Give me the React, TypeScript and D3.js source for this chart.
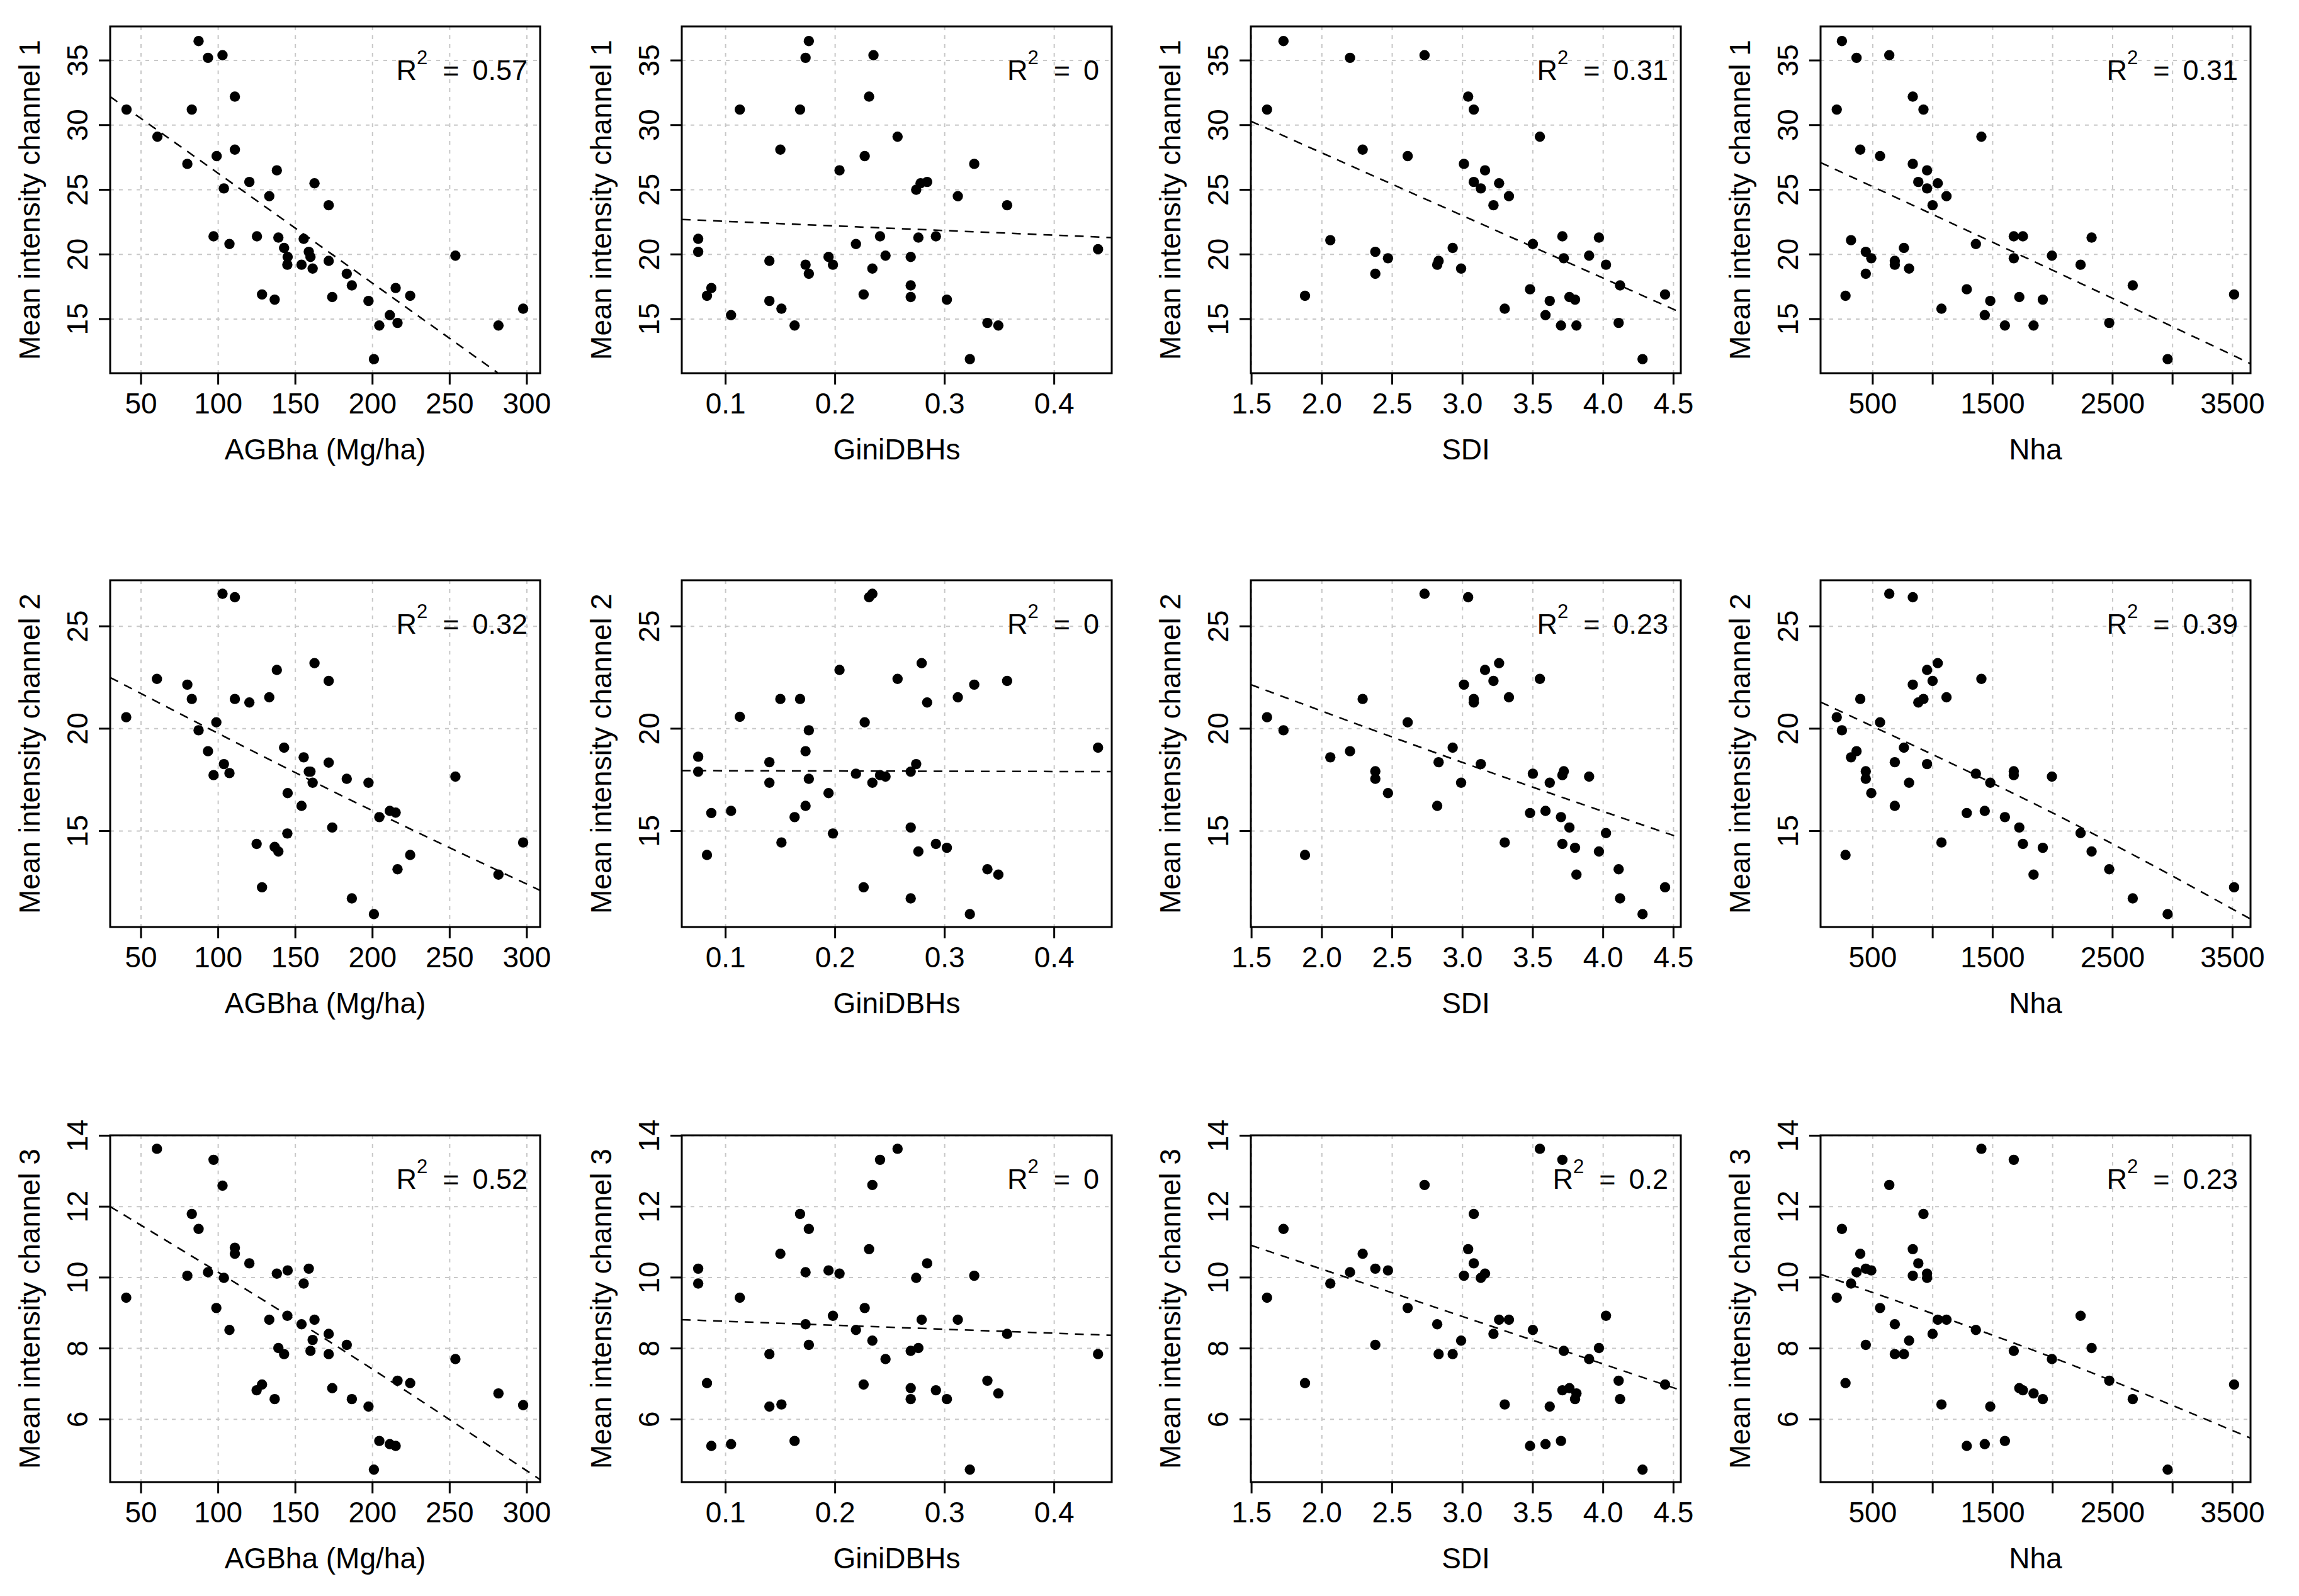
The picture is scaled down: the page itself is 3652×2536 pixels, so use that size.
import React from 'react';
import * as d3 from 'd3';

const W = 3652;
const H = 2536;

// ---------- data ----------
const agbCh1 = [[40.6,31.2],[60.6,29.1],[80,27.0],[82.9,31.2],[87.3,36.5],[93.4,35.2],[102.8,35.4],[99,27.6],[110.8,32.2],[110.8,28.1],[97,21.4],[103.7,25.1],[107.3,20.8],[120.2,25.6],[125.1,21.4],[128.4,16.9],[133.1,24.5],[136.6,16.5],[138,26.5],[139,21.3],[142.7,20.5],[145,19.8],[144.8,19.2],[154,19.2],[155.4,21.2],[158.7,20.2],[159.8,19.8],[161.2,18.9],[162.4,25.5],[171.6,23.8],[171.6,19.5],[173.9,16.7],[183.3,18.5],[186.6,17.6],[197.4,16.4],[200.9,11.9],[204.4,14.5],[211.2,15.3],[215,17.4],[216.2,14.7],[224.4,16.8],[253.7,19.9],[281.6,14.5],[297.6,15.8]];
const giniCh1 = [[0.075,21.2],[0.075,20.2],[0.083,16.8],[0.087,17.4],[0.105,15.3],[0.113,31.2],[0.140,19.5],[0.140,16.4],[0.150,28.1],[0.151,15.8],[0.163,14.5],[0.168,31.2],[0.173,19.2],[0.173,35.2],[0.176,36.5],[0.176,18.5],[0.194,19.8],[0.198,19.2],[0.204,26.5],[0.219,20.8],[0.226,16.9],[0.227,27.6],[0.231,32.2],[0.234,18.9],[0.235,35.4],[0.241,21.4],[0.246,19.9],[0.257,29.1],[0.269,19.8],[0.269,17.6],[0.269,16.7],[0.274,25.0],[0.276,21.3],[0.278,25.5],[0.284,25.6],[0.292,21.4],[0.302,16.5],[0.312,24.5],[0.323,11.9],[0.327,27.0],[0.339,14.7],[0.349,14.5],[0.357,23.8],[0.440,20.4]];
const sdiCh1 = [[1.61,31.2],[1.727,36.5],[1.88,16.8],[2.06,21.1],[2.20,35.2],[2.29,28.1],[2.38,20.2],[2.38,18.5],[2.47,19.7],[2.61,27.6],[2.73,35.4],[2.82,19.2],[2.83,19.5],[2.93,20.5],[2.99,18.9],[3.01,27.0],[3.04,32.2],[3.08,31.2],[3.08,25.6],[3.13,25.1],[3.16,26.5],[3.22,23.8],[3.26,25.5],[3.30,15.8],[3.33,24.5],[3.48,17.3],[3.50,20.8],[3.55,29.1],[3.59,15.3],[3.62,16.4],[3.70,14.5],[3.71,21.4],[3.72,19.7],[3.76,16.7],[3.80,16.5],[3.81,14.5],[3.90,19.9],[3.97,21.3],[4.02,19.2],[4.11,14.7],[4.12,17.6],[4.28,11.9],[4.44,16.9]];
const nhaCh1 = [[200,31.2],[243,36.5],[273,16.8],[319,21.1],[365,35.2],[396,28.1],[442,20.2],[442,18.5],[488,19.7],[561,27.6],[638,35.4],[684,19.5],[684,19.2],[760,20.5],[803,18.9],[834,32.2],[834,27.0],[880,25.6],[923,31.2],[953,26.5],[953,25.1],[999,23.8],[1042,25.5],[1073,15.8],[1115,24.5],[1284,17.3],[1360,20.8],[1406,29.1],[1434,15.3],[1480,16.4],[1602,14.5],[1676,21.4],[1676,19.7],[1722,16.7],[1752,21.4],[1841,14.5],[1918,16.5],[1994,19.9],[2233,19.2],[2325,21.3],[2472,14.7],[2668,17.6],[2959,11.9],[3513,16.9]];

const agbCh2 = [[40.4,20.56],[60.3,22.43],[80,22.15],[82.9,21.45],[87.3,19.92],[93.4,18.9],[98.8,20.31],[97,17.73],[103.7,18.27],[107.3,17.83],[102.8,26.59],[110.8,26.42],[110.8,21.45],[120.2,21.28],[124.9,14.37],[128.4,12.25],[133.1,21.53],[136.6,14.22],[138,22.87],[139,14.0],[142.7,19.07],[145,16.85],[144.8,14.88],[154,16.23],[155.4,18.6],[158.7,17.9],[159.8,17.9],[161.2,17.36],[162.4,23.2],[171.6,22.33],[171.6,18.34],[173.9,15.17],[183.3,17.55],[186.6,11.71],[197.4,17.36],[200.9,10.94],[204.4,15.68],[211.2,15.98],[215,15.9],[216.2,13.13],[224.4,13.83],[253.7,17.66],[281.6,12.87],[297.6,14.44]];
const giniCh2 = [[0.075,18.63],[0.075,17.9],[0.083,13.83],[0.087,15.88],[0.105,15.98],[0.113,20.58],[0.140,18.36],[0.140,17.36],[0.150,21.45],[0.151,14.44],[0.163,15.68],[0.168,21.45],[0.173,18.9],[0.173,16.23],[0.176,19.92],[0.176,17.55],[0.194,16.85],[0.198,14.88],[0.204,22.87],[0.219,17.8],[0.226,12.25],[0.227,20.31],[0.231,26.42],[0.234,26.59],[0.234,17.36],[0.241,17.73],[0.246,17.66],[0.257,22.43],[0.269,17.9],[0.269,15.17],[0.269,11.71],[0.274,18.27],[0.276,14.0],[0.279,23.2],[0.284,21.28],[0.292,14.37],[0.302,14.18],[0.312,21.53],[0.323,10.94],[0.327,22.15],[0.339,13.13],[0.349,12.87],[0.357,22.33],[0.440,19.07]];
const sdiCh2 = [[1.61,20.56],[1.727,19.92],[1.88,13.83],[2.06,18.6],[2.20,18.9],[2.29,21.45],[2.38,17.92],[2.38,17.55],[2.47,16.85],[2.61,20.31],[2.73,26.59],[2.82,16.23],[2.83,18.36],[2.93,19.07],[2.99,17.36],[3.01,22.15],[3.04,26.42],[3.08,21.45],[3.08,21.28],[3.13,18.27],[3.16,22.87],[3.22,22.33],[3.26,23.2],[3.30,14.44],[3.33,21.53],[3.48,15.88],[3.50,17.8],[3.55,22.43],[3.59,15.98],[3.62,17.36],[3.70,15.68],[3.71,14.37],[3.71,17.73],[3.72,17.92],[3.76,15.17],[3.80,14.18],[3.81,12.87],[3.90,17.66],[3.97,14.0],[4.02,14.9],[4.11,13.13],[4.12,11.71],[4.28,10.94],[4.44,12.25]];
const nhaCh2 = [[200,20.56],[243,19.92],[273,13.83],[319,18.6],[365,18.9],[396,21.45],[442,17.92],[442,17.55],[488,16.85],[561,20.31],[638,26.59],[684,18.36],[684,16.23],[760,19.07],[803,17.36],[834,26.42],[834,22.15],[880,21.28],[923,21.45],[953,22.87],[953,18.27],[999,22.33],[1042,23.2],[1073,14.44],[1115,21.53],[1284,15.88],[1360,17.8],[1406,22.43],[1434,15.98],[1480,17.36],[1602,15.68],[1676,17.92],[1676,17.73],[1722,15.17],[1752,14.37],[1841,12.87],[1918,14.18],[1994,17.66],[2233,14.9],[2325,14.0],[2472,13.13],[2668,11.71],[2959,10.94],[3513,12.25]];

const agbCh3 = [[40.4,9.43],[60.3,13.63],[80,10.05],[82.9,11.79],[87.3,11.37],[93.4,10.15],[97,13.32],[98.8,9.14],[103.7,9.99],[102.8,12.59],[107.3,8.52],[110.8,10.84],[110.8,10.67],[120.2,10.4],[124.9,6.82],[128.4,6.98],[133.1,8.81],[136.6,6.57],[138,10.11],[139,8.01],[142.7,7.84],[145,10.2],[144.8,8.92],[154,8.68],[155.4,9.83],[158.7,10.25],[159.8,7.93],[161.2,8.24],[162.4,8.81],[171.6,8.41],[171.6,7.84],[173.9,6.88],[183.3,8.1],[186.6,6.57],[197.4,6.36],[200.9,4.58],[204.4,5.39],[211.2,5.3],[215,5.25],[216.2,7.09],[224.4,7.02],[253.7,7.7],[281.6,6.73],[297.6,6.4]];
const giniCh3 = [[0.075,10.25],[0.075,9.83],[0.083,7.02],[0.087,5.25],[0.105,5.3],[0.113,9.43],[0.140,7.84],[0.140,6.36],[0.150,10.67],[0.151,6.42],[0.163,5.39],[0.168,11.79],[0.173,10.15],[0.173,8.68],[0.176,11.37],[0.176,8.1],[0.194,10.2],[0.198,8.92],[0.204,10.11],[0.219,8.52],[0.226,6.98],[0.227,9.14],[0.231,10.8],[0.234,12.61],[0.234,8.22],[0.241,13.32],[0.246,7.7],[0.257,13.63],[0.269,7.93],[0.269,6.88],[0.269,6.57],[0.274,9.99],[0.276,8.01],[0.279,8.81],[0.284,10.4],[0.292,6.82],[0.302,6.57],[0.312,8.81],[0.323,4.58],[0.327,10.05],[0.339,7.09],[0.349,6.73],[0.357,8.41],[0.440,7.84]];
const sdiCh3 = [[1.61,9.43],[1.727,11.37],[1.88,7.02],[2.06,9.83],[2.20,10.15],[2.29,10.67],[2.38,10.25],[2.38,8.1],[2.47,10.2],[2.61,9.14],[2.73,12.61],[2.82,8.68],[2.83,7.84],[2.93,7.84],[2.99,8.22],[3.01,10.05],[3.04,10.8],[3.08,11.79],[3.08,10.4],[3.13,9.99],[3.16,10.11],[3.22,8.41],[3.26,8.81],[3.30,6.42],[3.33,8.81],[3.48,5.25],[3.50,8.52],[3.55,13.63],[3.59,5.3],[3.62,6.36],[3.70,5.39],[3.71,13.32],[3.71,6.82],[3.72,7.93],[3.76,6.88],[3.80,6.57],[3.81,6.73],[3.90,7.7],[3.97,8.01],[4.02,8.92],[4.11,7.09],[4.12,6.57],[4.28,4.58],[4.44,6.98]];
const nhaCh3 = [[200,9.43],[243,11.37],[273,7.02],[319,9.83],[365,10.15],[396,10.67],[442,10.25],[442,8.1],[488,10.2],[561,9.14],[638,12.61],[684,8.68],[684,7.84],[760,7.84],[803,8.22],[834,10.05],[834,10.8],[880,10.4],[923,11.79],[953,10.11],[953,9.99],[999,8.41],[1042,8.81],[1073,6.42],[1115,8.81],[1284,5.25],[1360,8.52],[1406,13.63],[1434,5.3],[1480,6.36],[1602,5.39],[1676,13.32],[1676,7.93],[1722,6.88],[1752,6.82],[1841,6.73],[1918,6.57],[1994,7.7],[2233,8.92],[2325,8.01],[2472,7.09],[2668,6.57],[2959,4.58],[3513,6.98]];

// fitted (dashed) lines, read as points along each line
const fitAgbCh1 = [[30, 32.2], [155, 21.6], [281, 10.85]];
const fitGiniCh1 = [[0.06, 22.7], [0.4525, 21.3]];
const fitSdiCh1 = [[1.495, 30.3], [3.0, 23.0], [4.552, 15.5]];
const fitNhaCh1 = [[65, 27.1], [1994, 18.8], [3650, 11.55]];
const fitAgbCh2 = [[30, 22.5], [170, 17.1], [308.6, 12.1]];
const fitGiniCh2 = [[0.06, 17.95], [0.4525, 17.9]];
const fitSdiCh2 = [[1.495, 22.15], [3.0, 18.35], [4.552, 14.66]];
const fitNhaCh2 = [[65, 21.3], [1994, 15.9], [3650, 10.7]];
const fitAgbCh3 = [[30, 12.0], [170, 8.25], [308.6, 4.3]];
const fitGiniCh3 = [[0.06, 8.81], [0.4525, 8.37]];
const fitSdiCh3 = [[1.495, 10.91], [3.0, 8.9], [4.552, 6.82]];
const fitNhaCh3 = [[65, 10.09], [1994, 7.75], [3650, 5.47]];

const xTitles = ['AGBha (Mg/ha)', 'GiniDBHs', 'SDI', 'Nha'];
const yTitles = ['Mean intensity channel 1', 'Mean intensity channel 2', 'Mean intensity channel 3'];
const r2Values = [
  ['0.57', '0', '0.31', '0.31'],
  ['0.32', '0', '0.23', '0.39'],
  ['0.52', '0', '0.2', '0.23'],
];
const xTicks = [
  [50, 100, 150, 200, 250, 300],
  [0.1, 0.2, 0.3, 0.4],
  [1.5, 2.0, 2.5, 3.0, 3.5, 4.0, 4.5],
  [500, 1000, 1500, 2000, 2500, 3000, 3500],
];
const xTickLabels = [
  ['50', '100', '150', '200', '250', '300'],
  ['0.1', '0.2', '0.3', '0.4'],
  ['1.5', '2.0', '2.5', '3.0', '3.5', '4.0', '4.5'],
  ['500', '', '1500', '', '2500', '', '3500'],
];
const yTicks = [
  [15, 20, 25, 30, 35],
  [15, 20, 25],
  [6, 8, 10, 12, 14],
];
const xLimits = [[30.0, 308.6], [0.060, 0.4525], [1.495, 4.552], [65, 3650]];
const yLimits = [[10.81, 37.63], [10.31, 27.25], [4.23, 14.01]];

const panelPoints = [
  [agbCh1, giniCh1, sdiCh1, nhaCh1],
  [agbCh2, giniCh2, sdiCh2, nhaCh2],
  [agbCh3, giniCh3, sdiCh3, nhaCh3],
];
const panelFits = [
  [fitAgbCh1, fitGiniCh1, fitSdiCh1, fitNhaCh1],
  [fitAgbCh2, fitGiniCh2, fitSdiCh2, fitNhaCh2],
  [fitAgbCh3, fitGiniCh3, fitSdiCh3, fitNhaCh3],
];

// ---------- layout ----------
const colLeft = [175, 1083, 1987, 2892];
const rowTop = [42, 922, 1804];
const PW = 683;
const PH = 551;
const FONT = "'Liberation Sans', Arial, Helvetica, sans-serif";

function Panel({ row, col }: { row: number; col: number }) {
  const x0 = colLeft[col];
  const y0 = rowTop[row];
  const xs = d3.scaleLinear().domain(xLimits[col]).range([x0, x0 + PW]);
  const ys = d3.scaleLinear().domain(yLimits[row]).range([y0 + PH, y0]);
  const pts = panelPoints[row][col];
  const fit = panelFits[row][col];
  const line = d3
    .line<number[]>()
    .x((d) => xs(d[0]))
    .y((d) => ys(d[1]))
    .curve(fit.length > 2 ? d3.curveNatural : d3.curveLinear);
  const clipId = `clip-${row}-${col}`;
  const [xd0, xd1] = xLimits[col];
  const [yd0, yd1] = yLimits[row];
  return (
    <g>
      <defs>
        <clipPath id={clipId}>
          <rect x={x0} y={y0} width={PW} height={PH} />
        </clipPath>
      </defs>
      {/* grid */}
      <g stroke="#c8c8c8" strokeWidth={2} strokeDasharray="6 8">
        {xTicks[col]
          .filter((t) => t > xd0 + 1e-9 && t < xd1)
          .map((t, i) => (
            <line key={'gx' + i} x1={xs(t)} x2={xs(t)} y1={y0} y2={y0 + PH} />
          ))}
        {yTicks[row]
          .filter((t) => t > yd0 && t < yd1)
          .map((t, i) => (
            <line key={'gy' + i} x1={x0} x2={x0 + PW} y1={ys(t)} y2={ys(t)} />
          ))}
      </g>
      {/* points */}
      <g fill="#000">
        {pts.map((d, i) => (
          <circle key={i} cx={xs(d[0])} cy={ys(d[1])} r={8.2} />
        ))}
      </g>
      {/* fit line */}
      <path
        d={line(fit) || ''}
        fill="none"
        stroke="#000"
        strokeWidth={2.5}
        strokeDasharray="14 11"
        clipPath={`url(#${clipId})`}
      />
      {/* box */}
      <rect x={x0} y={y0} width={PW} height={PH} fill="none" stroke="#000" strokeWidth={3} />
      {/* axis ticks */}
      <g stroke="#000" strokeWidth={3}>
        {xTicks[col].map((t, i) => (
          <line key={'tx' + i} x1={xs(t)} x2={xs(t)} y1={y0 + PH} y2={y0 + PH + 18} />
        ))}
        {yTicks[row].map((t, i) => (
          <line key={'ty' + i} x1={x0} x2={x0 - 18} y1={ys(t)} y2={ys(t)} />
        ))}
      </g>
      <g fontFamily={FONT} fontSize={46} fill="#000">
        {xTicks[col].map((t, i) =>
          xTickLabels[col][i] ? (
            <text key={'lx' + i} x={xs(t)} y={y0 + PH + 64} textAnchor="middle">
              {xTickLabels[col][i]}
            </text>
          ) : null
        )}
        {yTicks[row].map((t, i) => (
          <text
            key={'ly' + i}
            transform={`translate(${x0 - 36},${ys(t)}) rotate(-90)`}
            textAnchor="middle"
          >
            {String(t)}
          </text>
        ))}
        <text x={x0 + PW / 2} y={y0 + PH + 137} textAnchor="middle" fontSize={46}>
          {xTitles[col]}
        </text>
        <text
          transform={`translate(${x0 - 112},${y0 + PH / 2}) rotate(-90)`}
          textAnchor="middle"
          fontSize={46}
        >
          {yTitles[row]}
        </text>
        <text x={x0 + PW - 20} y={y0 + 85} textAnchor="end" fontSize={45}>
          <tspan>R</tspan>
          <tspan fontSize={31} dy={-25}>2</tspan>
          <tspan dx={24} dy={25}>=</tspan>
          <tspan dx={21}>{r2Values[row][col]}</tspan>
        </text>
      </g>
    </g>
  );
}

export default function App() {
  const cells: [number, number][] = [];
  for (let r = 0; r < 3; r++) for (let c = 0; c < 4; c++) cells.push([r, c]);
  return (
    <svg
      width={W}
      height={H}
      viewBox={`0 0 ${W} ${H}`}
      style={{ position: 'absolute', left: 0, top: 0, background: '#fff' }}
    >
      <rect x={0} y={0} width={W} height={H} fill="#fff" />
      {cells.map(([r, c]) => (
        <Panel key={`${r}-${c}`} row={r} col={c} />
      ))}
    </svg>
  );
}
